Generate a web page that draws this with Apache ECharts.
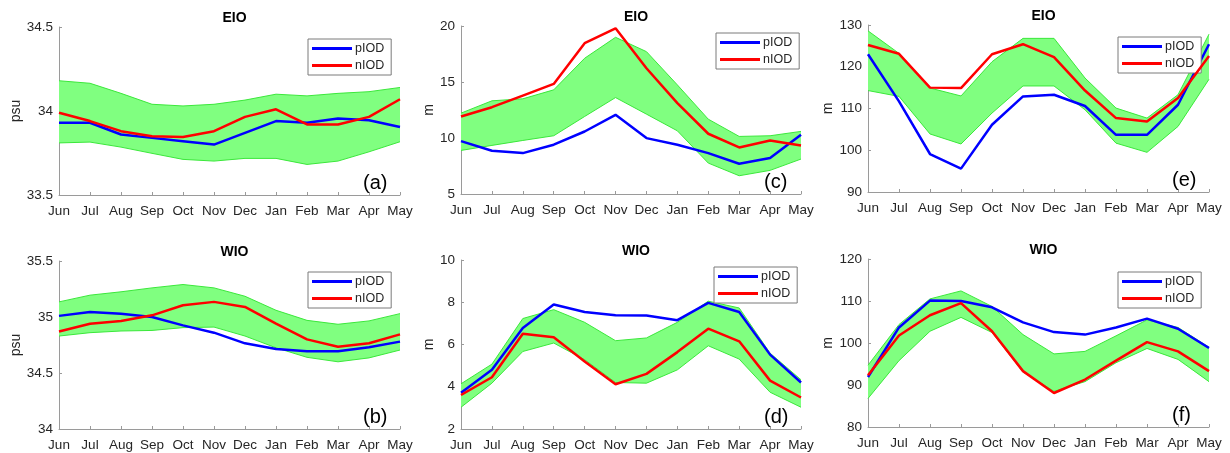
<!DOCTYPE html>
<html>
<head>
<meta charset="utf-8">
<script src="https://cdn.jsdelivr.net/npm/echarts@6/dist/echarts.min.js"></script>
<style>
  html, body { margin: 0; padding: 0; background: #fff; }
  #chart { width: 1230px; height: 453px; }
</style>
</head>
<body>
<div id="chart"></div>
<script>
// Month axis (June to May cycle)
const months = ['Jun','Jul','Aug','Sep','Oct','Nov','Dec','Jan','Feb','Mar','Apr','May'];

// (a) EIO salinity, psu
const eioSalP  = [33.93, 33.93, 33.86, 33.84, 33.82, 33.80, 33.87, 33.94, 33.93, 33.955, 33.945, 33.905];
const eioSalN  = [33.99, 33.94, 33.88, 33.85, 33.845, 33.88, 33.965, 34.01, 33.92, 33.92, 33.965, 34.07];
const eioSalHi = [34.18, 34.165, 34.105, 34.04, 34.03, 34.04, 34.065, 34.10, 34.09, 34.105, 34.115, 34.14];
const eioSalLo = [33.81, 33.815, 33.785, 33.748, 33.712, 33.702, 33.718, 33.718, 33.682, 33.702, 33.757, 33.817];

// (c) EIO depth, m
const eioMldP  = [9.72, 8.86, 8.65, 9.40, 10.58, 12.07, 9.99, 9.40, 8.65, 7.70, 8.21, 10.29];
const eioMldN  = [11.92, 12.75, 13.79, 14.83, 18.46, 19.79, 16.23, 13.11, 10.38, 9.16, 9.78, 9.34];
const eioMldHi = [12.22, 13.32, 13.50, 14.30, 17.12, 18.99, 17.71, 14.74, 11.68, 10.14, 10.20, 10.59];
const eioMldLo = [8.89, 9.34, 9.78, 10.20, 11.92, 13.61, 12.13, 10.64, 7.76, 6.63, 7.11, 8.12];

// (e) EIO depth, m
const eioD20P  = [123.0, 111.7, 99.1, 95.6, 106.1, 112.9, 113.3, 110.6, 103.7, 103.7, 110.9, 125.4];
const eioD20N  = [125.2, 123.1, 115.0, 114.9, 123.0, 125.4, 122.3, 114.3, 107.7, 106.9, 112.5, 122.6];
const eioD20Hi = [128.6, 123.2, 114.9, 113.0, 121.2, 126.8, 126.8, 117.3, 110.1, 107.7, 113.3, 127.8];
const eioD20Lo = [114.3, 112.9, 103.9, 101.5, 108.9, 115.4, 115.4, 109.7, 101.7, 99.5, 105.7, 117.0];

// (b) WIO salinity, psu
const wioSalP  = [35.01, 35.045, 35.03, 35.00, 34.925, 34.86, 34.765, 34.715, 34.695, 34.695, 34.73, 34.78];
const wioSalN  = [34.87, 34.94, 34.965, 35.015, 35.105, 35.135, 35.09, 34.94, 34.80, 34.735, 34.765, 34.845];
const wioSalHi = [35.135, 35.195, 35.225, 35.26, 35.29, 35.26, 35.185, 35.06, 34.97, 34.935, 34.965, 35.03];
const wioSalLo = [34.83, 34.86, 34.875, 34.88, 34.905, 34.91, 34.83, 34.725, 34.64, 34.60, 34.635, 34.705];

// (d) WIO depth, m
const wioMldP  = [3.72, 4.80, 6.78, 7.89, 7.54, 7.39, 7.37, 7.15, 7.97, 7.54, 5.52, 4.20];
const wioMldN  = [3.61, 4.45, 6.51, 6.34, 5.20, 4.12, 4.61, 5.64, 6.75, 6.15, 4.29, 3.49];
const wioMldHi = [4.14, 5.07, 7.23, 7.65, 7.05, 6.18, 6.31, 7.05, 8.05, 7.73, 5.59, 4.33];
const wioMldLo = [3.03, 4.17, 5.67, 6.07, 5.28, 4.20, 4.17, 4.80, 5.94, 5.31, 3.74, 3.03];

// (f) WIO depth, m
const wioD20P  = [91.9, 103.7, 110.1, 110.0, 108.5, 104.9, 102.6, 102.0, 103.7, 105.8, 103.4, 98.8];
const wioD20N  = [92.3, 101.8, 106.6, 109.5, 102.8, 93.3, 88.1, 91.3, 95.8, 100.2, 98.0, 93.3];
const wioD20Hi = [94.7, 104.4, 110.5, 112.4, 108.7, 102.0, 97.4, 98.0, 101.7, 105.5, 103.7, 99.0];
const wioD20Lo = [86.8, 95.8, 102.8, 106.1, 102.5, 93.1, 88.5, 90.8, 95.3, 98.7, 96.1, 90.8];

const FONT = '"Liberation Sans", Arial, Helvetica, sans-serif';
const AXIS_GRAY = '#9a9a9a';
const TEXT_DARK = '#262626';
const BAND_FILL = '#80ff80';
const BAND_EDGE = '#3be83b';

// Panel layout: grid boxes in pixels, axis ranges, labels
const panels = [
  { tag: '(a)', title: 'EIO', unit: 'psu', gap: 32, left: 59,  top: 27,  width: 341, height: 168, min: 33.5, max: 34.5, step: 0.5, p: eioSalP, n: eioSalN, hi: eioSalHi, lo: eioSalLo },
  { tag: '(c)', title: 'EIO', unit: 'm',   gap: 25, left: 461, top: 26,  width: 340, height: 168, min: 5,    max: 20,   step: 5,   p: eioMldP, n: eioMldN, hi: eioMldHi, lo: eioMldLo },
  { tag: '(e)', title: 'EIO', unit: 'm',   gap: 32, left: 868, top: 25,  width: 341, height: 167, min: 90,   max: 130,  step: 10,  p: eioD20P, n: eioD20N, hi: eioD20Hi, lo: eioD20Lo },
  { tag: '(b)', title: 'WIO', unit: 'psu', gap: 32, left: 59,  top: 261, width: 341, height: 168, min: 34,   max: 35.5, step: 0.5, p: wioSalP, n: wioSalN, hi: wioSalHi, lo: wioSalLo },
  { tag: '(d)', title: 'WIO', unit: 'm',   gap: 25, left: 461, top: 260, width: 340, height: 169, min: 2,    max: 10,   step: 2,   p: wioMldP, n: wioMldN, hi: wioMldHi, lo: wioMldLo },
  { tag: '(f)', title: 'WIO', unit: 'm',   gap: 32, left: 868, top: 259, width: 341, height: 168, min: 80,   max: 120,  step: 10,  p: wioD20P, n: wioD20N, hi: wioD20Hi, lo: wioD20Lo }
];

// Legend boxes (top-left corner of each framed legend)
const legendPos = [
  { left: 308,  top: 39 },
  { left: 716,  top: 33 },
  { left: 1118, top: 37 },
  { left: 308,  top: 272 },
  { left: 714,  top: 267 },
  { left: 1118, top: 272 }
];

const grids = [], xAxes = [], yAxes = [], series = [], titles = [], legends = [], graphics = [];

panels.forEach((pn, i) => {
  grids.push({ left: pn.left, top: pn.top, width: pn.width, height: pn.height });

  xAxes.push({
    type: 'category', gridIndex: i, data: months, boundaryGap: false,
    axisLine: { lineStyle: { color: AXIS_GRAY, width: 1 } },
    axisTick: { inside: true, length: 3, lineStyle: { color: AXIS_GRAY } },
    axisLabel: { color: TEXT_DARK, fontFamily: FONT, fontSize: 13.5, margin: 9, interval: 0 },
    splitLine: { show: false }
  });

  yAxes.push({
    type: 'value', gridIndex: i, min: pn.min, max: pn.max, interval: pn.step,
    name: pn.unit, nameLocation: 'middle', nameGap: pn.gap, nameRotate: 90,
    nameTextStyle: { color: TEXT_DARK, fontFamily: FONT, fontSize: 14 },
    axisLine: { show: true, lineStyle: { color: AXIS_GRAY, width: 1 } },
    axisTick: { show: true, inside: true, length: 3, lineStyle: { color: AXIS_GRAY } },
    axisLabel: { color: TEXT_DARK, fontFamily: FONT, fontSize: 13.5, margin: 6 },
    splitLine: { show: false }
  });

  const stackId = 'band' + i;
  // spread band: lower edge, then thickness stacked on top of it
  series.push({
    name: 'band-lo-' + i, type: 'line', xAxisIndex: i, yAxisIndex: i,
    data: pn.lo, stack: stackId, symbol: 'none', silent: true,
    lineStyle: { color: BAND_EDGE, width: 1 }, z: 1
  });
  series.push({
    name: 'band-hi-' + i, type: 'line', xAxisIndex: i, yAxisIndex: i,
    data: pn.hi.map((v, k) => +(v - pn.lo[k]).toFixed(4)), stack: stackId, symbol: 'none', silent: true,
    lineStyle: { color: BAND_EDGE, width: 1 },
    areaStyle: { color: BAND_FILL, opacity: 1 }, z: 1
  });
  series.push({
    name: 'pIOD', type: 'line', xAxisIndex: i, yAxisIndex: i, data: pn.p,
    symbol: 'none', color: '#0000ff', lineStyle: { color: '#0000ff', width: 2.5 }, z: 3
  });
  series.push({
    name: 'nIOD', type: 'line', xAxisIndex: i, yAxisIndex: i, data: pn.n,
    symbol: 'none', color: '#ff0000', lineStyle: { color: '#ff0000', width: 2.5 }, z: 4
  });

  titles.push({
    text: pn.title, left: pn.left + pn.width / 2, top: pn.top - 21, textAlign: 'center',
    textStyle: { fontFamily: FONT, fontSize: 14, fontWeight: 'bold', color: '#000' }
  });

  legends.push({
    data: [{ name: 'pIOD' }, { name: 'nIOD' }],
    orient: 'vertical', left: legendPos[i].left, top: legendPos[i].top,
    icon: 'rect', itemWidth: 40, itemHeight: 3, itemGap: 4,
    backgroundColor: '#fff', borderColor: '#7a7a7a', borderWidth: 1, borderRadius: 0,
    padding: [3, 7, 3, 4],
    textStyle: { fontFamily: FONT, fontSize: 12.5, color: TEXT_DARK, padding: [0, 0, 0, -2] },
    selectedMode: false
  });

  graphics.push({
    type: 'text', left: pn.left + pn.width - 37, top: pn.top + pn.height - 22,
    style: { text: pn.tag, font: '20px ' + FONT, fill: '#000' }, z: 10
  });
});

const chart = echarts.init(document.getElementById('chart'), null, { renderer: 'canvas' });
chart.setOption({
  animation: false,
  backgroundColor: '#fff',
  title: titles,
  legend: legends,
  grid: grids,
  xAxis: xAxes,
  yAxis: yAxes,
  series: series,
  graphic: graphics
});
</script>
</body>
</html>
